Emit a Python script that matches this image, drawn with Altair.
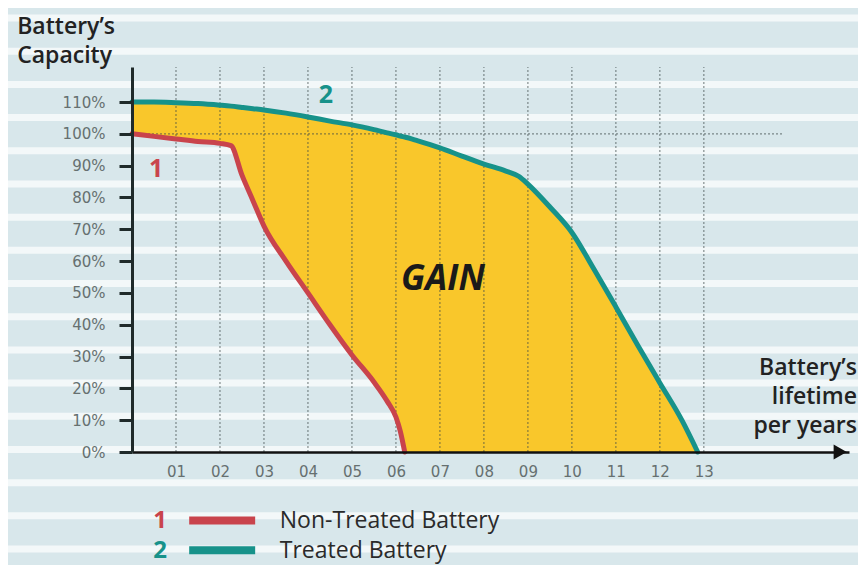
import altair as alt
import pandas as pd
import numpy as np

# ---------------- data ----------------
years = [0, 0.5, 1, 1.5, 2, 2.25, 2.5, 2.75, 3, 3.5, 4, 4.5, 5, 5.5, 5.8, 6, 6.1, 6.2,
         6.5, 7, 7.5, 8, 8.5, 8.8, 9, 9.5, 10, 10.5, 11, 11.5, 12, 12.5, 12.86]
non_treated = [100, 99.2, 98.4, 97.6, 97, 96.3, 87, 79, 71, 60, 50, 40, 30.5, 22, 16, 11, 6.5, 0,
               0, 0, 0, 0, 0, 0, 0, 0, 0, 0, 0, 0, 0, 0, 0]
treated = [110, 110, 109.8, 109.5, 109, 108.7, 108.3, 107.9, 107.5, 106.5, 105.3, 104, 102.8,
           101.3, 100.3, 99.7, 99.3, 99, 97.8, 95.6, 93, 90.5, 88.3, 86.6, 84.2, 77, 69, 57.5, 45.6,
           33.5, 21.7, 10, 0]
non_treated_end = 6.2

grid_years = list(range(1, 14))
y_tick_values = list(range(0, 111, 10))
reference_level = [100]

legend_numbers = ["1", "2"]
legend_labels = ["Non-Treated Battery", "Treated Battery"]
y_title = ["Battery’s", "Capacity"]
x_title = ["Battery’s", "lifetime", "per years"]

RED = "#c9444c"
TEAL = "#17928a"
YELLOW = "#f9c72b"
DARK = "#1f2a2a"

curves = pd.DataFrame({"year": years, "non_treated": non_treated, "treated": treated})

xs = alt.Scale(domain=[0, 16.3], nice=False, zero=False)
ys = alt.Scale(domain=[0, 121], nice=False, zero=False)

x_axis = alt.Axis(values=grid_years,
                  labelExpr="datum.value < 10 ? '0' + datum.value : '' + datum.value",
                  ticks=False, grid=False, domainColor="#111111", domainWidth=2.5,
                  labelFont="DejaVu Sans", labelFontSize=15, labelColor="#667070",
                  labelPadding=12, labelFlush=False, title=None, zindex=1)
y_axis = alt.Axis(values=y_tick_values, labelExpr="datum.value + '%'",
                  tickSize=13, tickWidth=3, tickColor=DARK, domainColor=DARK, domainWidth=3,
                  labelFont="DejaVu Sans", labelFontSize=15, labelColor="#667070",
                  labelPadding=14, labelFlush=False, grid=False, title=None, zindex=1)


def X(f):
    return alt.X(f, type="quantitative", scale=xs, axis=x_axis, title=None)


def Y(f):
    return alt.Y(f, type="quantitative", scale=ys, axis=y_axis, title=None)


# ---------------- decorative background stripes ----------------
stripe_centres = np.arange(-30.5, 140, 10.43)
stripes = pd.DataFrame({"sx0": -3.2, "sx1": 16.6,
                        "sy0": stripe_centres - 1.1, "sy1": stripe_centres + 1.1})
stripe_layer = alt.Chart(stripes).mark_rect(color="#f3f8f9", clip=False).encode(
    x=X("sx0"), x2="sx1", y=Y("sy0"), y2="sy1")

# ---------------- gain area ----------------
area = alt.Chart(curves).mark_area(color=YELLOW, interpolate="monotone").encode(
    x=X("year"), y=Y("treated"), y2="non_treated")

# ---------------- grid ----------------
vgrid = alt.Chart(pd.DataFrame({"g": grid_years, "lo": 0, "hi": 121})).mark_rule(
    color="#3a4646", opacity=0.6, strokeDash=[2, 2], strokeWidth=1.2).encode(
    x=X("g"), y=Y("lo"), y2="hi")
hgrid = alt.Chart(pd.DataFrame({"lvl": reference_level, "a": 0, "b": 14.8})).mark_rule(
    color="#3a4646", opacity=0.6, strokeDash=[2, 2], strokeWidth=1.2).encode(
    x=X("a"), x2="b", y=Y("lvl"))

# ---------------- curves ----------------
red_line = alt.Chart(curves).transform_filter(
    f"datum.year <= {non_treated_end}").mark_line(
    color=RED, strokeWidth=5, interpolate="monotone", strokeCap="round").encode(
    x=X("year"), y=Y("non_treated"))
teal_line = alt.Chart(curves).mark_line(
    color=TEAL, strokeWidth=5, interpolate="monotone", strokeCap="round").encode(
    x=X("year"), y=Y("treated"))

# ---------------- annotations ----------------
num_df = pd.DataFrame({"x": [0.55, 4.41], "y": [86.4, 109.7], "t": legend_numbers,
                       "c": [RED, TEAL]})
nums = alt.Chart(num_df).mark_text(font="Open Sans", fontWeight="bold", fontSize=25,
                                   align="center", baseline="alphabetic").encode(
    x=X("x"), y=Y("y"), text="t:N", color=alt.Color("c:N", scale=None))

gain = alt.Chart(pd.DataFrame({"x": [7.07], "y": [50.9], "t": ["GAIN"]})).mark_text(
    font="Open Sans", fontWeight="bold", fontStyle="italic", fontSize=35, color="#1a1a1a",
    align="center", baseline="alphabetic").encode(x=X("x"), y=Y("y"), text="t:N")

ytitle = alt.Chart(pd.DataFrame({"x": [-2.61, -2.61], "y": [131.4, 122.3], "t": y_title})).mark_text(
    font="Open Sans", fontWeight=600, fontSize=23, color="#222222", align="left",
    baseline="alphabetic", lineHeight=29, clip=False).encode(x=X("x"), y=Y("y"), text="t:N")

xtitle = alt.Chart(pd.DataFrame({"x": [16.48] * 3, "y": [24.2, 15.1, 6.0], "t": x_title})).mark_text(
    font="Open Sans", fontWeight=600, fontSize=23, color="#222222", align="right",
    baseline="alphabetic", clip=False).encode(x=X("x"), y=Y("y"), text="t:N")

leg_num = alt.Chart(pd.DataFrame({"x": [0.64, 0.64], "y": [-23.9, -33.3], "t": legend_numbers,
                                  "c": [RED, TEAL]})).mark_text(
    font="Open Sans", fontWeight="bold", fontSize=24, align="center", baseline="alphabetic").encode(
    x=X("x"), y=Y("y"), text="t:N", color=alt.Color("c:N", scale=None))
leg_bar = alt.Chart(pd.DataFrame({"a": [1.30, 1.30], "b": [2.80, 2.80], "y": [-21.5, -30.9],
                                  "c": [RED, TEAL]})).mark_rule(strokeWidth=8).encode(
    x=X("a"), x2="b", y=Y("y"), color=alt.Color("c:N", scale=None))
leg_txt = alt.Chart(pd.DataFrame({"x": [3.36, 3.36], "y": [-23.9, -33.3], "t": legend_labels})).mark_text(
    font="Open Sans", fontSize=23, color="#2a2a2a", align="left", baseline="alphabetic").encode(
    x=X("x"), y=Y("y"), text="t:N")

arrow = alt.Chart(pd.DataFrame({"x": [16.1], "y": [0]})).mark_point(
    shape="triangle-right", filled=True, color="#111111", size=230, opacity=1).encode(
    x=X("x"), y=Y("y"))

chart = alt.layer(
    stripe_layer, area, vgrid, hgrid, red_line, teal_line, nums, gain,
    ytitle, xtitle, leg_num, leg_bar, leg_txt, arrow
).properties(
    width=717, height=385,
    autosize=alt.AutoSizeParams(type="none"),
    padding={"left": 124, "top": 59, "right": 9, "bottom": 113},
    background="#d8e7eb",
).configure_view(stroke=None)

chart.save("out.html", embed_options={"renderer": "svg", "actions": False})
